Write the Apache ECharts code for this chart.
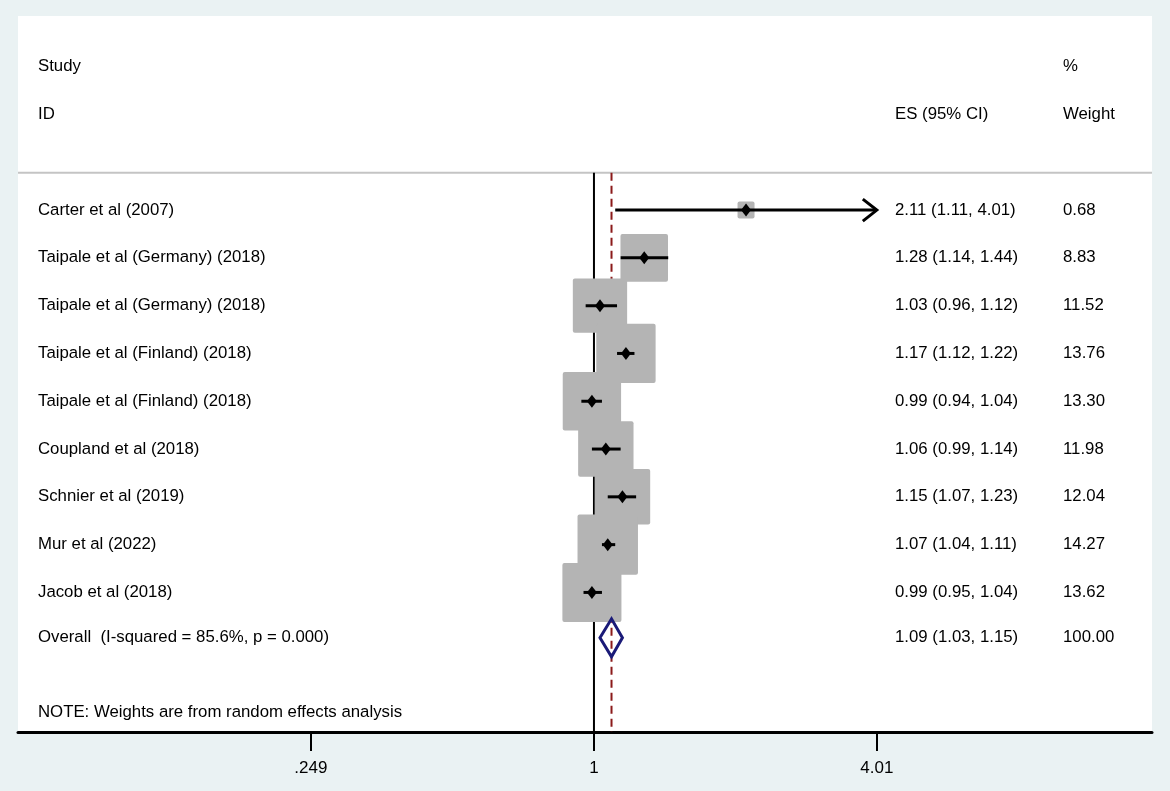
<!DOCTYPE html>
<html>
<head>
<meta charset="utf-8">
<script src="https://cdn.jsdelivr.net/npm/echarts@6/dist/echarts.min.js"></script>
<style>
html,body{margin:0;padding:0;background:#eaf2f3;}
#chart{width:1170px;height:791px;}
</style>
</head>
<body>
<div id="chart"></div>
<script>
var studies = [
    'Carter et al (2007)',
    'Taipale et al (Germany) (2018)',
    'Taipale et al (Germany) (2018)',
    'Taipale et al (Finland) (2018)',
    'Taipale et al (Finland) (2018)',
    'Coupland et al (2018)',
    'Schnier et al (2019)',
    'Mur et al (2022)',
    'Jacob et al (2018)'
];
var es = [2.11, 1.28, 1.03, 1.17, 0.99, 1.06, 1.15, 1.07, 0.99];
var lower = [1.11, 1.14, 0.96, 1.12, 0.94, 0.99, 1.07, 1.04, 0.95];
var upper = [4.01, 1.44, 1.12, 1.22, 1.04, 1.14, 1.23, 1.11, 1.04];
var weights = [0.68, 8.83, 11.52, 13.76, 13.30, 11.98, 12.04, 14.27, 13.62];

var overallLabel = 'Overall  (I-squared = 85.6%, p = 0.000)';
var overallEs = 1.09, overallLower = 1.03, overallUpper = 1.15, overallWeight = 100.00;
var noteText = 'NOTE: Weights are from random effects analysis';

var tickValues = [0.249, 1, 4.01];
var tickLabels = ['.249', '1', '4.01'];

(function() {
    var FONT = '"Liberation Sans", Arial, sans-serif';
    var lnMin = -2.828, lnMax = 2.740;   // plot spans the whole panel on a log scale
    var rowMin = -4.06, rowMax = 10.92;
    var sepRow = -0.78;
    var colStudy = 38, colEs = 895, colWt = 1063;   // text columns, px

    function fmt(v) { return v.toFixed(2); }

    // text rows: headers, studies, overall, note
    var textRows = [
        { row: -3, a: 'Study', b: '', c: '%' },
        { row: -2, a: 'ID', b: 'ES (95% CI)', c: 'Weight' }
    ];
    for (let i = 0; i < studies.length; i++) {
        textRows.push({ row: i, a: studies[i],
            b: fmt(es[i]) + ' (' + fmt(lower[i]) + ', ' + fmt(upper[i]) + ')',
            c: fmt(weights[i]) });
    }
    textRows.push({ row: studies.length - 0.05, a: overallLabel,
        b: fmt(overallEs) + ' (' + fmt(overallLower) + ', ' + fmt(overallUpper) + ')',
        c: fmt(overallWeight) });
    textRows.push({ row: studies.length + 1.5, a: noteText, b: '', c: '' });

    var studyData = es.map(function(v, i) {
        return [Math.log(v), i, Math.log(lower[i]), Math.log(upper[i]), weights[i]];
    });

    function renderStudy(params, api) {
        var row = api.value(1);
        var c = api.coord([api.value(0), row]);
        var lo = api.coord([api.value(2), row]);
        var hi = api.coord([api.value(3), row]);
        var side = Math.max(17, 16 * Math.sqrt(api.value(4)));
        var children = [
            { type: 'rect', shape: { x: c[0] - side / 2, y: c[1] - side / 2, width: side, height: side, r: 2 },
              style: { fill: '#b4b4b4' } },
            { type: 'line', shape: { x1: lo[0], y1: c[1], x2: hi[0], y2: c[1] },
              style: { stroke: '#000', lineWidth: 3 } },
            { type: 'polygon', shape: { points: [[c[0] - 5, c[1]], [c[0], c[1] - 6.5], [c[0] + 5, c[1]], [c[0], c[1] + 6.5]] },
              style: { fill: '#000' } }
        ];
        // arrow where the interval runs to the edge of the tick range
        if (Math.exp(api.value(3)) >= tickValues[tickValues.length - 1]) {
            children.push({ type: 'polyline',
                shape: { points: [[hi[0] - 14, c[1] - 11], [hi[0], c[1]], [hi[0] - 14, c[1] + 11]] },
                style: { stroke: '#000', lineWidth: 3, fill: null } });
        }
        return { type: 'group', children: children };
    }

    function renderOverall(params, api) {
        var row = api.value(1);
        var c = api.coord([api.value(0), row]);
        var lo = api.coord([api.value(2), row]);
        var hi = api.coord([api.value(3), row]);
        return { type: 'polygon',
            shape: { points: [[lo[0], c[1]], [c[0], c[1] - 19], [hi[0], c[1]], [c[0], c[1] + 19]] },
            style: { stroke: '#1a1a78', lineWidth: 3, fill: null } };
    }

    function renderRefLines(params, api) {
        var top = api.coord([0, sepRow]);
        var left = api.coord([lnMin, sepRow]);
        var right = api.coord([lnMax, sepRow]);
        var bottom = api.coord([0, rowMax]);
        var nullX = api.coord([0, 0])[0];
        var ovX = api.coord([Math.log(overallEs), 0])[0];
        return { type: 'group', children: [
            { type: 'line', shape: { x1: left[0], y1: top[1], x2: right[0], y2: top[1] },
              style: { stroke: '#c4c4c4', lineWidth: 2 } },
            { type: 'line', shape: { x1: nullX, y1: top[1], x2: nullX, y2: bottom[1] },
              style: { stroke: '#000', lineWidth: 2 } },
            { type: 'line', shape: { x1: ovX, y1: top[1], x2: ovX, y2: bottom[1] },
              style: { stroke: '#8b1a1a', lineWidth: 2, lineDash: [8, 5] } }
        ] };
    }

    function renderText(params, api) {
        var t = textRows[params.dataIndex];
        var y = api.coord([0, t.row])[1];
        var base = { fill: '#000', fontSize: 16.8, fontFamily: FONT, verticalAlign: 'middle', align: 'left' };
        var kids = [];
        [[colStudy, t.a], [colEs, t.b], [colWt, t.c]].forEach(function(p) {
            if (p[1]) {
                kids.push({ type: 'text', x: p[0], y: y, style: Object.assign({ text: p[1] }, base) });
            }
        });
        return { type: 'group', children: kids };
    }

    var option = {
        backgroundColor: '#eaf2f3',
        animation: false,
        grid: { left: 18, right: 18, top: 16, bottom: 59, show: true,
                backgroundColor: '#ffffff', borderWidth: 0 },
        xAxis: {
            type: 'value', min: lnMin, max: lnMax,
            axisLine: { show: true, onZero: false, lineStyle: { color: '#000', width: 3 } },
            axisTick: { show: true, length: 19, customValues: tickValues.map(Math.log),
                        lineStyle: { color: '#000', width: 2 } },
            axisLabel: {
                customValues: tickValues.map(Math.log),
                margin: 28, color: '#000', fontSize: 17, fontFamily: FONT,
                formatter: function(v) {
                    for (let i = 0; i < tickValues.length; i++) {
                        if (Math.abs(Math.log(tickValues[i]) - v) < 1e-6) return tickLabels[i];
                    }
                    return '';
                }
            },
            splitLine: { show: false }
        },
        yAxis: { type: 'value', min: rowMin, max: rowMax, inverse: true, show: false },
        series: [
            { type: 'custom', z: 1, renderItem: renderRefLines, data: [[0, 0]], silent: true },
            { type: 'custom', z: 3, renderItem: renderStudy, data: studyData,
              encode: { x: [0, 2, 3], y: 1 }, silent: true },
            { type: 'custom', z: 3, renderItem: renderOverall,
              data: [[Math.log(overallEs), studies.length - 0.05, Math.log(overallLower), Math.log(overallUpper)]],
              encode: { x: [0, 2, 3], y: 1 }, silent: true },
            { type: 'custom', z: 4, renderItem: renderText,
              data: textRows.map(function(t) { return [0, t.row]; }), silent: true }
        ]
    };
    var myChart = echarts.init(document.getElementById('chart'));
    myChart.setOption(option);
})();
</script>
</body>
</html>
